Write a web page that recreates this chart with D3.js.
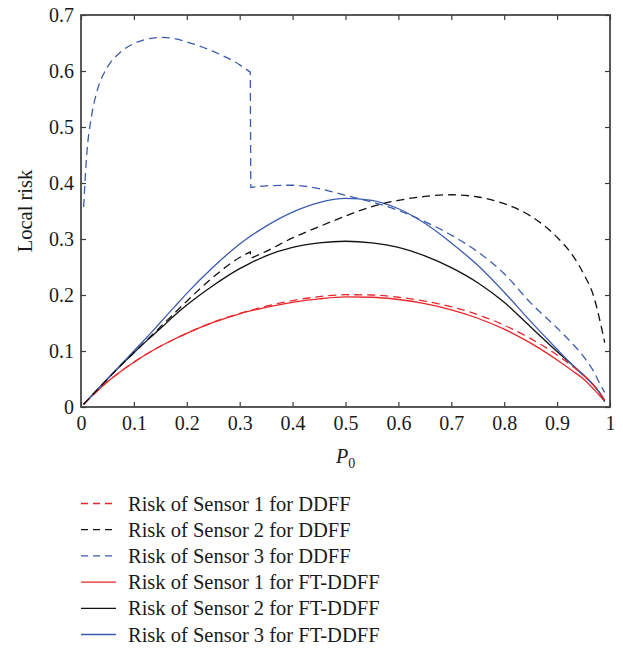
<!DOCTYPE html>
<html>
<head>
<meta charset="utf-8">
<script src="https://cdn.jsdelivr.net/npm/d3@7"></script>
<style>
  body { margin: 0; background: #fff; }
  svg { display: block; }
  text { font-family: "Liberation Serif", "DejaVu Serif", "Times New Roman", serif; fill: #1a1a1a; }
</style>
</head>
<body>
<svg id="chart" width="623" height="648"></svg>
<script>
// Prior probability P0 sampled along the x axis (0.32 / 0.321 brackets the jump)
const p0 = [0.005, 0.01, 0.02, 0.03, 0.05, 0.075, 0.1, 0.125, 0.15, 0.175, 0.2, 0.25, 0.3, 0.32, 0.321,
            0.35, 0.4, 0.45, 0.5, 0.55, 0.6, 0.65, 0.7, 0.75, 0.8, 0.85, 0.9, 0.93, 0.95, 0.97, 0.98, 0.99];
const jumpIndex = 14; // first sample after the threshold switch

// Local risk of each sensor, DDFF
const sensor1DDFF = [0.005, 0.0098, 0.019, 0.028, 0.045, 0.0635, 0.08, 0.095, 0.1085, 0.1205, 0.1318, 0.1515, 0.167, 0.1725, 0.1727,
                     0.18, 0.19, 0.197, 0.2005, 0.2, 0.196, 0.189, 0.179, 0.165, 0.146, 0.122, 0.093, 0.072, 0.057, 0.038, 0.026, 0.012];
const sensor2DDFF = [0.005, 0.01, 0.02, 0.03, 0.05, 0.074, 0.097, 0.12, 0.143, 0.166, 0.189, 0.232, 0.267, 0.277, 0.2655,
                     0.278, 0.302, 0.322, 0.341, 0.358, 0.369, 0.376, 0.379, 0.375, 0.363, 0.341, 0.303, 0.27, 0.238, 0.195, 0.158, 0.115];
const sensor3DDFF = [0.357, 0.44, 0.52, 0.563, 0.607, 0.634, 0.649, 0.657, 0.66, 0.658, 0.652, 0.635, 0.611, 0.598, 0.392,
                     0.395, 0.396, 0.39, 0.378, 0.366, 0.351, 0.331, 0.307, 0.277, 0.238, 0.186, 0.141, 0.112, 0.09, 0.062, 0.043, 0.026];

// Local risk of each sensor, FT-DDFF
const sensor1FT = [0.005, 0.0098, 0.019, 0.028, 0.045, 0.0635, 0.08, 0.095, 0.1085, 0.1205, 0.1315, 0.151, 0.1665, 0.1715, 0.1717,
                   0.178, 0.187, 0.193, 0.1965, 0.196, 0.192, 0.1845, 0.1735, 0.1585, 0.139, 0.114, 0.084, 0.064, 0.05, 0.031, 0.021, 0.01];
const sensor2FT = [0.005, 0.01, 0.02, 0.03, 0.05, 0.074, 0.097, 0.119, 0.14, 0.162, 0.182, 0.217, 0.247, 0.257, 0.2575,
                   0.27, 0.285, 0.293, 0.296, 0.293, 0.285, 0.27, 0.249, 0.222, 0.187, 0.143, 0.099, 0.074, 0.057, 0.038, 0.026, 0.01];
const sensor3FT = [0.005, 0.01, 0.02, 0.03, 0.05, 0.075, 0.1, 0.125, 0.151, 0.177, 0.203, 0.25, 0.291, 0.305, 0.3055,
                   0.323, 0.348, 0.365, 0.3725, 0.369, 0.354, 0.328, 0.293, 0.253, 0.205, 0.153, 0.103, 0.074, 0.056, 0.038, 0.026, 0.01];

const seriesLabels = ["Risk of Sensor 1 for DDFF", "Risk of Sensor 2 for DDFF", "Risk of Sensor 3 for DDFF",
                      "Risk of Sensor 1 for FT-DDFF", "Risk of Sensor 2 for FT-DDFF", "Risk of Sensor 3 for FT-DDFF"];

const xTickValues = [0, 0.1, 0.2, 0.3, 0.4, 0.5, 0.6, 0.7, 0.8, 0.9, 1];
const xTickLabels = ["0", "0.1", "0.2", "0.3", "0.4", "0.5", "0.6", "0.7", "0.8", "0.9", "1"];
const yTickValues = [0, 0.1, 0.2, 0.3, 0.4, 0.5, 0.6, 0.7];
const yTickLabels = ["0", "0.1", "0.2", "0.3", "0.4", "0.5", "0.6", "0.7"];

const RED = "#e8262b", BLACK = "#111111", BLUE = "#3b5bb0";
const series = [
  { name: seriesLabels[0], values: sensor1DDFF, color: RED,   dashed: true },
  { name: seriesLabels[1], values: sensor2DDFF, color: BLACK, dashed: true },
  { name: seriesLabels[2], values: sensor3DDFF, color: BLUE,  dashed: true },
  { name: seriesLabels[3], values: sensor1FT,   color: RED,   dashed: false },
  { name: seriesLabels[4], values: sensor2FT,   color: BLACK, dashed: false },
  { name: seriesLabels[5], values: sensor3FT,   color: BLUE,  dashed: false }
];

const svg = d3.select("#chart");
const plot = { left: 81, right: 610, top: 15, bottom: 407 };
const x = d3.scaleLinear().domain([0, 1]).range([plot.left, plot.right]);
const y = d3.scaleLinear().domain([0, 0.7]).range([plot.bottom, plot.top]);
const axisColor = "#3d3d3d";
const fontSize = 20;

// Curves: smooth on each side of the threshold switch, joined by a straight step
const line = d3.line().curve(d3.curveMonotoneX);
function curvePath(values) {
  const pts = p0.map((p, j) => [x(p), y(values[j])]);
  const before = line(pts.slice(0, jumpIndex));
  const after = line(pts.slice(jumpIndex));
  return before + after.replace(/^M/, "L");
}
const drawOrder = [3, 4, 5, 0, 1, 2];
drawOrder.forEach(i => {
  const s = series[i];
  svg.append("path")
    .attr("d", curvePath(s.values))
    .attr("fill", "none")
    .attr("stroke", s.color)
    .attr("stroke-width", 1.3)
    .attr("stroke-dasharray", s.dashed ? "8,5" : null);
});

// Axes with inward ticks on all four sides
function styleAxis(g, showLabels) {
  g.select(".domain").remove();
  g.attr("font-family", null);
  g.selectAll(".tick line").attr("stroke", axisColor).attr("stroke-width", 1.2);
  g.selectAll(".tick text").attr("font-size", fontSize).attr("fill", "#1a1a1a");
  if (!showLabels) g.selectAll(".tick text").remove();
}

svg.append("g").attr("transform", `translate(0,${plot.bottom})`)
  .call(d3.axisBottom(x).tickValues(xTickValues).tickFormat((d, i) => xTickLabels[i])
        .tickSizeInner(-5).tickSizeOuter(0).tickPadding(9))
  .call(g => styleAxis(g, true));
svg.append("g").attr("transform", `translate(0,${plot.top})`)
  .call(d3.axisTop(x).tickValues(xTickValues).tickSizeInner(-5).tickSizeOuter(0))
  .call(g => styleAxis(g, false));
svg.append("g").attr("transform", `translate(${plot.left},0)`)
  .call(d3.axisLeft(y).tickValues(yTickValues).tickFormat((d, i) => yTickLabels[i])
        .tickSizeInner(-5).tickSizeOuter(0).tickPadding(7))
  .call(g => styleAxis(g, true));
svg.append("g").attr("transform", `translate(${plot.right},0)`)
  .call(d3.axisRight(y).tickValues(yTickValues).tickSizeInner(-5).tickSizeOuter(0))
  .call(g => styleAxis(g, false));

// Frame
svg.append("rect")
  .attr("x", plot.left).attr("y", plot.top)
  .attr("width", plot.right - plot.left).attr("height", plot.bottom - plot.top)
  .attr("fill", "none").attr("stroke", axisColor).attr("stroke-width", 1.7);

// Axis titles
svg.append("text")
  .attr("transform", `translate(32,${(plot.top + plot.bottom) / 2}) rotate(-90)`)
  .attr("text-anchor", "middle")
  .attr("font-size", 20.5)
  .text("Local risk");

const xTitle = svg.append("text").attr("x", 336).attr("y", 463).attr("font-size", fontSize);
xTitle.append("tspan").attr("font-style", "italic").text("P");
xTitle.append("tspan").attr("font-size", 14).attr("dy", 5).text("0");

// Legend
const legend = svg.append("g");
series.forEach((s, i) => {
  const cy = 503.5 + i * 26.2;
  legend.append("line")
    .attr("x1", 81).attr("x2", 116).attr("y1", cy).attr("y2", cy)
    .attr("stroke", s.color).attr("stroke-width", 1.3)
    .attr("stroke-dasharray", s.dashed ? "7,5" : null);
  legend.append("text")
    .attr("x", 128).attr("y", cy).attr("dy", "0.35em")
    .attr("font-size", 20.5)
    .text(s.name);
});
</script>
</body>
</html>
